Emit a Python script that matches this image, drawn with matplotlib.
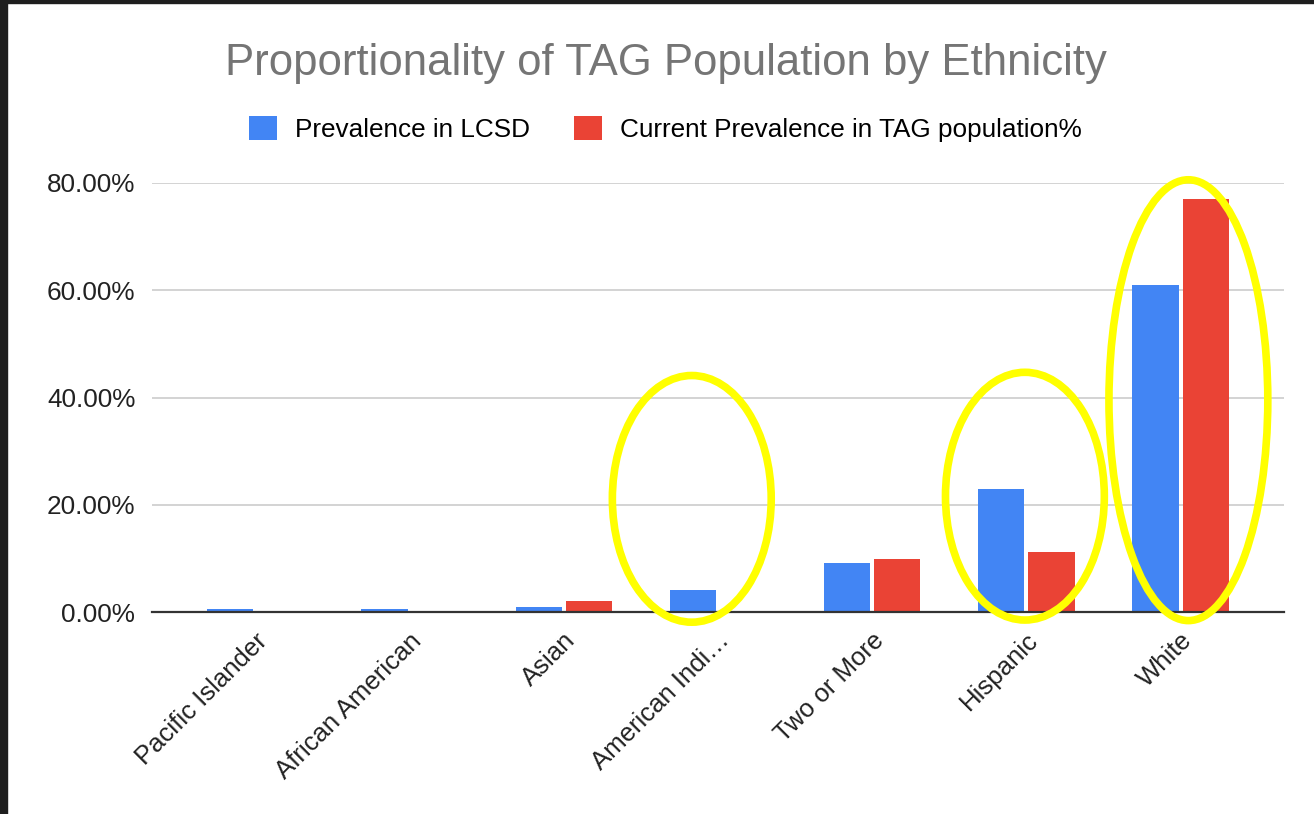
import matplotlib.pyplot as plt
import numpy as np
from matplotlib.patches import Ellipse, Rectangle, Patch
from matplotlib.transforms import ScaledTranslation

plt.rcParams['font.family'] = ['Liberation Sans', 'DejaVu Sans']

# data (percent)
categories = ['Pacific Islander', 'African American', 'Asian', 'American Indi…',
              'Two or More', 'Hispanic', 'White']
lcsd = [0.5, 0.5, 0.9, 4.1, 9.1, 22.9, 61.0]
tag = [0.0, 0.0, 2.1, 0.0, 9.9, 11.2, 77.0]
series_names = ['Prevalence in LCSD', 'Current Prevalence in TAG population%']
yticks = [0, 20, 40, 60, 80]

# yellow highlight rings (category index offset, y centre, height in %)
rings = [(2.83, 21.1, 46.0), (4.99, 21.6, 46.2), (6.05, 39.5, 82.2)]

blue = '#4285F4'
red = '#EA4335'

fig = plt.figure(figsize=(13.14, 8.14), dpi=100)
ax = fig.add_axes([152 / 1314, 1 - 612 / 814, 1132 / 1314, 429 / 814])

x = np.arange(len(categories))
w = 0.30
ax.bar(x - w / 2 - 0.013, lcsd, width=w, color=blue, zorder=3)
ax.bar(x + w / 2 + 0.013, tag, width=w, color=red, zorder=3)

ax.set_xlim(-0.67, len(categories) - 1 + 0.67)
ax.set_ylim(0, 80)
ax.set_yticks(yticks)
ax.set_yticklabels(['{:.2f}%'.format(v) for v in yticks], fontsize=18.8, color='#222222')
ax.grid(axis='y', color='#cccccc', linewidth=1.2, zorder=0)
ax.set_axisbelow(True)
for s in ['top', 'right', 'left']:
    ax.spines[s].set_visible(False)
ax.spines['bottom'].set_color('#333333')
ax.spines['bottom'].set_linewidth(1.6)
ax.spines['bottom'].set_zorder(4)
ax.tick_params(axis='y', length=0, pad=12)
ax.tick_params(axis='x', length=0, pad=18)
ax.set_xticks(x)
ax.set_xticklabels(categories, rotation=45, ha='right', va='center',
                   rotation_mode='anchor', fontsize=18.5, color='#222222')
shift = ScaledTranslation(8 / 100, 0, fig.dpi_scale_trans)
for lab in ax.get_xticklabels():
    lab.set_transform(lab.get_transform() + shift)

for cx, cy, h in rings:
    e = Ellipse((cx, cy), width=1.03, height=h, fill=False, edgecolor='#FFFF00',
                linewidth=5.5, zorder=5, clip_on=False)
    ax.add_patch(e)

fig.text(0.507, 1 - 64 / 814, 'Proportionality of TAG Population by Ethnicity',
         ha='center', va='center', fontsize=31.5, color='#757575')

handles = [Patch(facecolor=blue, edgecolor='none'), Patch(facecolor=red, edgecolor='none')]
fig.legend(handles, series_names, loc='center', bbox_to_anchor=(0.5065, 1 - 129 / 814),
           ncol=2, frameon=False, fontsize=18.8, handlelength=1.05, handleheight=1.05,
           handletextpad=0.7, columnspacing=1.7)

# dark screenshot frame on top and left
fig.patches.append(Rectangle((0, 1 - 3 / 814), 1, 3 / 814, transform=fig.transFigure,
                             color='#1e1e1e', zorder=10))
fig.patches.append(Rectangle((0, 0), 7 / 1314, 1, transform=fig.transFigure,
                             color='#1e1e1e', zorder=10))

fig.savefig('out.png', dpi=100)
